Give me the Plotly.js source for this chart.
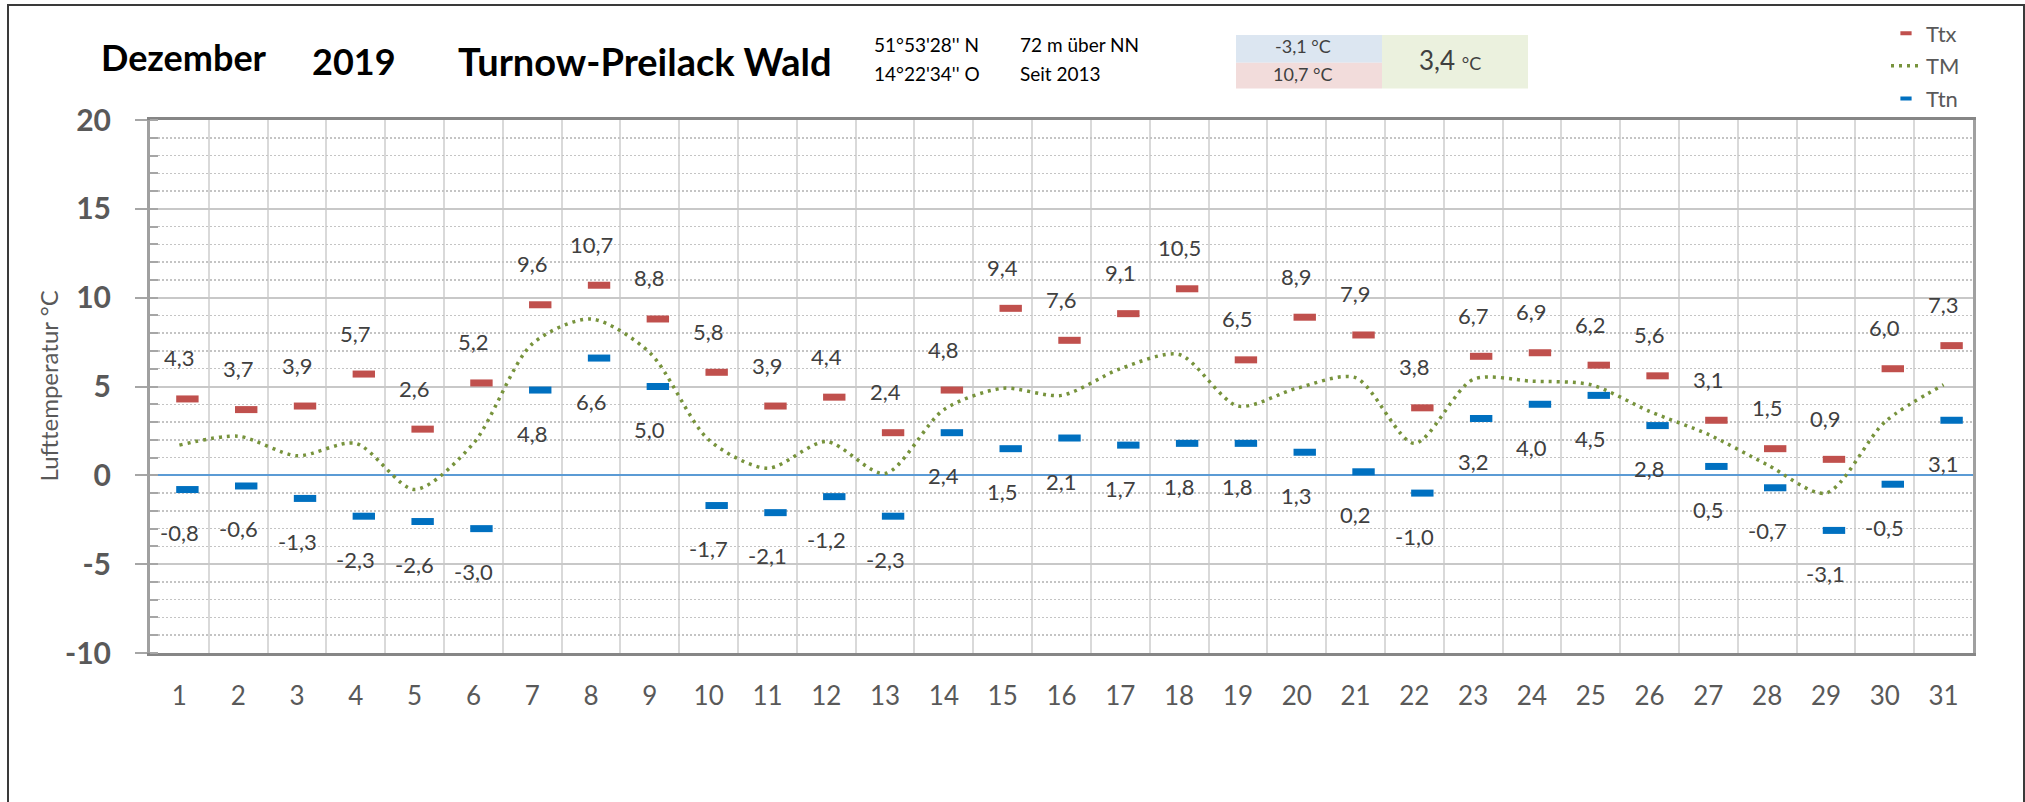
<!DOCTYPE html>
<html>
<head>
<meta charset="utf-8">
<script src="https://cdn.plot.ly/plotly-3.0.1.min.js"></script>
<style>
  html, body { margin: 0; padding: 0; background: #fff; overflow: hidden; }
  #chart { width: 2025px; height: 802px; }
  #frame { position: absolute; left: 7px; top: 4px; width: 2014px; height: 900px;
           border: 2px solid #3a3a3a; pointer-events: none; }
</style>
</head>
<body>
<div id="chart"></div>
<div id="frame"></div>
<script>
// ---- data ----
const days = [1,2,3,4,5,6,7,8,9,10,11,12,13,14,15,16,17,18,19,20,21,22,23,24,25,26,27,28,29,30,31];
const ttx  = [4.3,3.7,3.9,5.7,2.6,5.2,9.6,10.7,8.8,5.8,3.9,4.4,2.4,4.8,9.4,7.6,9.1,10.5,6.5,8.9,7.9,3.8,6.7,6.9,6.2,5.6,3.1,1.5,0.9,6.0,7.3];
const tm   = [1.7,2.2,1.1,1.8,-0.8,1.8,7.4,8.8,6.9,2.0,0.4,1.9,0.1,3.7,4.9,4.5,6.0,6.8,3.9,4.9,5.5,1.8,5.4,5.3,5.1,3.6,2.3,0.6,-1.0,3.0,5.1];
const ttn  = [-0.8,-0.6,-1.3,-2.3,-2.6,-3.0,4.8,6.6,5.0,-1.7,-2.1,-1.2,-2.3,2.4,1.5,2.1,1.7,1.8,1.8,1.3,0.2,-1.0,3.2,4.0,4.5,2.8,0.5,-0.7,-3.1,-0.5,3.1];
const yTicks = [-10,-5,0,5,10,15,20];
const monthMin = -3.1, monthMax = 10.7, monthMean = 3.4;
const titleParts = ['Dezember', '2019', 'Turnow-Preilack Wald'];
const infoLines = ["51°53'28'' N", "14°22'34'' O", "72 m über NN", "Seit 2013"];
const yTitle = 'Lufttemperatur °C';

// ---- geometry helpers ----
const W = 2025, H = 802;
const M = {l: 150, r: 52, t: 113, b: 149};
const PW = W - M.l - M.r, PH = H - M.t - M.b;
const px = p => (p - M.l) / PW;
const py = p => (H - M.b - p) / PH;
const fmt = v => v.toFixed(1).replace('.', ',');
const FONT = 'Lato, "Open Sans", sans-serif';
const GREY = '#595959';
const RED = '#c0504d', BLUE = '#0070c0', GREEN = '#77933c';
const shift = 8 / (PW / days.length); // markers sit slightly right of the category centre

const traces = [
  {x: days, y: ttx, xaxis: 'x2', yaxis: 'y', mode: 'markers', name: 'Ttx', showlegend: false,
   marker: {symbol: 'line-ew', size: 16, color: RED, line: {width: 7, color: RED}}, hoverinfo: 'skip'},
  {x: days, y: tm, xaxis: 'x', yaxis: 'y', mode: 'lines', name: 'TM', showlegend: false,
   line: {color: GREEN, width: 3.5, dash: '3px,5px', shape: 'spline', smoothing: 0.8}, hoverinfo: 'skip'},
  {x: days, y: ttn, xaxis: 'x2', yaxis: 'y', mode: 'markers', name: 'Ttn', showlegend: false,
   marker: {symbol: 'line-ew', size: 16, color: BLUE, line: {width: 7, color: BLUE}}, hoverinfo: 'skip'},
  // legend entries (small symbols as in the original legend)
  {x: [null], y: [null], mode: 'markers', name: 'Ttx', legendgroup: 'a',
   marker: {symbol: 'line-ew', size: 8, color: RED, line: {width: 4, color: RED}}},
  {x: [null], y: [null], mode: 'lines', name: 'TM', legendgroup: 'b',
   line: {color: GREEN, width: 3.5, dash: '3px,5px'}},
  {x: [null], y: [null], mode: 'markers', name: 'Ttn', legendgroup: 'c',
   marker: {symbol: 'line-ew', size: 8, color: BLUE, line: {width: 4, color: BLUE}}}
];

const annotations = [];
const lblFont = {family: FONT, size: 22, color: '#404040'};
days.forEach((d, i) => {
  annotations.push({x: d, y: ttx[i], xref: 'x', yref: 'y', text: fmt(ttx[i]), showarrow: false,
    yshift: 41, font: lblFont});
  annotations.push({x: d, y: ttn[i], xref: 'x', yref: 'y', text: fmt(ttn[i]), showarrow: false,
    yshift: -43, font: lblFont});
});

// y-axis title (rotated)
annotations.push({xref: 'paper', yref: 'paper', x: px(48), y: 0.5, xanchor: 'center', yanchor: 'middle',
  textangle: -90, text: yTitle, showarrow: false, font: {family: FONT, size: 24, color: GREY}});

// header texts
annotations.push({xref: 'paper', yref: 'paper', x: px(310), y: py(53), xanchor: 'left', yanchor: 'middle',
  text: titleParts[1], showarrow: false, font: {family: FONT, size: 36, color: '#000', weight: 'bold'}});
annotations.push({xref: 'paper', yref: 'paper', x: px(456), y: py(53), xanchor: 'left', yanchor: 'middle',
  text: titleParts[2], showarrow: false, font: {family: FONT, size: 38, color: '#000', weight: 'bold'}});
const infoPos = [[872, 37], [872, 66], [1018, 37], [1018, 66]];
infoLines.forEach((t, i) => {
  annotations.push({xref: 'paper', yref: 'paper', x: px(infoPos[i][0]), y: py(infoPos[i][1]),
    xanchor: 'left', yanchor: 'middle', text: t, showarrow: false,
    font: {family: FONT, size: 19, color: '#000'}});
});
annotations.push({xref: 'paper', yref: 'paper', x: px(1303), y: py(38), xanchor: 'center', yanchor: 'middle',
  text: fmt(monthMin) + ' °C', showarrow: false, font: {family: FONT, size: 18, color: '#404040'}});
annotations.push({xref: 'paper', yref: 'paper', x: px(1303), y: py(66), xanchor: 'center', yanchor: 'middle',
  text: fmt(monthMax) + ' °C', showarrow: false, font: {family: FONT, size: 18, color: '#404040'}});
annotations.push({xref: 'paper', yref: 'paper', x: px(1450), y: py(52), xanchor: 'center', yanchor: 'middle',
  text: fmt(monthMean) + ' <span style="font-size:18px">°C</span>', showarrow: false,
  font: {family: FONT, size: 26, color: '#404040'}});

const shapes = [
  {type: 'rect', xref: 'paper', yref: 'paper', x0: px(1236), x1: px(1382), y0: py(55), y1: py(27),
   fillcolor: '#dce6f1', line: {width: 0}},
  {type: 'rect', xref: 'paper', yref: 'paper', x0: px(1236), x1: px(1382), y0: py(81), y1: py(55),
   fillcolor: '#f2dcdb', line: {width: 0}},
  {type: 'rect', xref: 'paper', yref: 'paper', x0: px(1382), x1: px(1528), y0: py(81), y1: py(27),
   fillcolor: '#ebf1de', line: {width: 0}}
];

const layout = {
  width: W, height: H,
  margin: M,
  paper_bgcolor: '#ffffff', plot_bgcolor: '#ffffff',
  font: {family: FONT, color: GREY},
  title: {text: titleParts[0], xref: 'container', yref: 'container', x: 101 / W, xanchor: 'left',
          y: 1 - 58 / H, yanchor: 'middle', font: {family: FONT, size: 36, color: '#000', weight: 'bold'}},
  showlegend: true,
  legend: {x: px(1886), y: py(4), xanchor: 'left', yanchor: 'top', tracegroupgap: 1,
           font: {family: FONT, size: 22, color: GREY}, bgcolor: 'rgba(0,0,0,0)'},
  xaxis: {range: [0.5, 31.5], tickmode: 'linear', tick0: 1, dtick: 1, showgrid: false,
          zeroline: false, ticks: '', ticklabelstandoff: 18,
          tickfont: {family: FONT, size: 26, color: GREY},
          showline: true, linecolor: '#868686', linewidth: 3, mirror: true,
          minor: {tickmode: 'linear', tick0: 0.5, dtick: 1, showgrid: true, gridcolor: '#d9d9d9', gridwidth: 2, ticks: ''},
          fixedrange: true},
  xaxis2: {overlaying: 'x', range: [0.5 - shift, 31.5 - shift], visible: false, fixedrange: true},
  yaxis: {range: [-10, 20], tickmode: 'array', tickvals: yTicks, ticktext: yTicks.map(String),
          showgrid: true, gridcolor: '#c8c8c8', gridwidth: 2,
          zeroline: true, zerolinecolor: '#5b9bd5', zerolinewidth: 2,
          ticks: 'outside', ticklen: 12, tickwidth: 2, tickcolor: '#a6a6a6',
          ticklabelstandoff: 18,
          tickfont: {family: FONT, size: 30, color: GREY, weight: 'bold'},
          showline: true, linecolor: '#a0a0a0', linewidth: 3, mirror: true,
          minor: {tickmode: 'linear', tick0: 0, dtick: 1, showgrid: true, gridcolor: '#c4c4c4', gridwidth: 1.5,
                  griddash: '2px,2px', ticks: 'inside', ticklen: 8, tickwidth: 2, tickcolor: '#a6a6a6'},
          fixedrange: true},
  annotations: annotations,
  shapes: shapes
};

Plotly.newPlot('chart', traces, layout, {displayModeBar: false, staticPlot: true});
</script>
</body>
</html>
